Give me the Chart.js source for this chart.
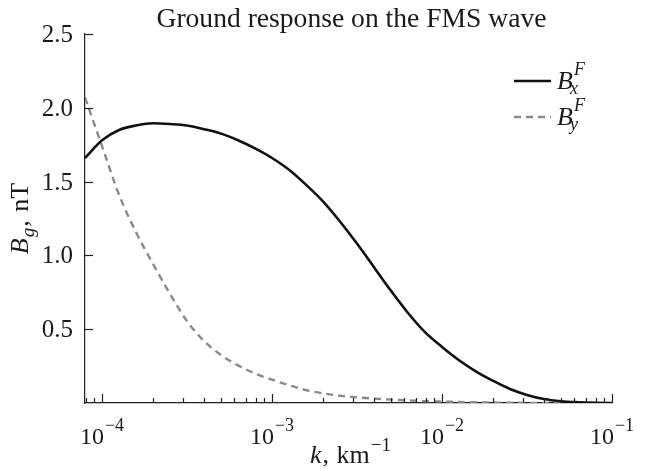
<!DOCTYPE html>
<html>
<head>
<meta charset="utf-8">
<script src="https://cdn.jsdelivr.net/npm/chart.js@4.4.1/dist/chart.umd.min.js"></script>
<style>
  html, body { margin: 0; padding: 0; background: #fff; }
  #wrap { width: 647px; height: 469px; position: relative; }
</style>
</head>
<body>
<div id="wrap"><canvas id="c" width="647" height="469"></canvas></div>
<script>
// ---- data ----
const chartTitle = "Ground response on the FMS wave";
// wavenumber k, km^-1 (read at ~0.1-decade steps)
const kValues = [7.94e-5, 1.0e-4, 1.26e-4, 1.58e-4, 2.0e-4, 2.51e-4, 3.16e-4, 3.98e-4, 5.01e-4, 6.31e-4,
                 7.94e-4, 1.0e-3, 1.26e-3, 1.58e-3, 2.0e-3, 2.51e-3, 3.16e-3, 3.98e-3, 5.01e-3, 6.31e-3,
                 7.94e-3, 1.0e-2, 1.26e-2, 1.58e-2, 2.0e-2, 2.51e-2, 3.16e-2, 3.98e-2, 5.01e-2, 6.31e-2,
                 7.94e-2, 1.0e-1];
// B_x^F, nT (solid)
const bxValues = [1.66, 1.78, 1.85, 1.88, 1.895, 1.89, 1.88, 1.855, 1.825, 1.78,
                  1.725, 1.66, 1.58, 1.48, 1.365, 1.23, 1.08, 0.92, 0.76, 0.61,
                  0.48, 0.38, 0.29, 0.215, 0.15, 0.095, 0.055, 0.027, 0.012, 0.005,
                  0.001, 0];
// B_y^F, nT (dashed)
const byValues = [2.07, 1.74, 1.41, 1.16, 0.94, 0.74, 0.555, 0.42, 0.325, 0.255,
                  0.20, 0.158, 0.12, 0.088, 0.065, 0.049, 0.038, 0.030, 0.023, 0.018,
                  0.013, 0.010, 0.007, 0.005, 0.003, 0.002, 0.001, 0.0005, 0, 0,
                  0, 0];
const xMajorTicks = [1e-4, 1e-3, 1e-2, 1e-1];
const xTickExponents = ["\u22124", "\u22123", "\u22122", "\u22121"];
const yTicks = [0.5, 1.0, 1.5, 2.0, 2.5];
const yTickLabels = ["0.5", "1.0", "1.5", "2.0", "2.5"];
const xRange = [7.94e-5, 1e-1];
const yRange = [0, 2.5];

const SERIF = '"Liberation Serif", "Times New Roman", serif';
const TXT = '#1a1a1a';

function richWidth(ctx, parts) {
  let w = 0;
  parts.forEach(p => { ctx.font = p.font; w += ctx.measureText(p.t).width + (p.dx || 0); });
  return w;
}
function drawRich(ctx, parts, x, y, align) {
  const w = richWidth(ctx, parts);
  let cx = align === 'center' ? x - w / 2 : (align === 'right' ? x - w : x);
  ctx.textAlign = 'left';
  ctx.textBaseline = 'alphabetic';
  parts.forEach(p => {
    ctx.font = p.font;
    ctx.fillText(p.t, cx, y + (p.dy || 0));
    cx += ctx.measureText(p.t).width + (p.dx || 0);
  });
}

const deco = {
  id: 'deco',
  afterDraw(chart) {
    const { ctx, chartArea: a, scales: { x, y } } = chart;
    ctx.save();
    ctx.strokeStyle = '#222';
    ctx.lineWidth = 1.2;
    ctx.fillStyle = TXT;
    // y ticks (inside)
    yTicks.forEach((v, i) => {
      const py = Math.round(y.getPixelForValue(v)) + 0.5;
      ctx.beginPath(); ctx.moveTo(a.left, py); ctx.lineTo(a.left + 8, py); ctx.stroke();
      ctx.font = '25px ' + SERIF;
      ctx.textAlign = 'right'; ctx.textBaseline = 'middle';
      ctx.fillText(yTickLabels[i], a.left - 12, py + 1);
    });
    // x ticks major + minor (inside)
    const lo = Math.floor(Math.log10(xRange[0])), hi = Math.ceil(Math.log10(xRange[1]));
    for (let e = lo; e <= hi; e++) {
      for (let m = 1; m <= 9; m++) {
        const v = m * Math.pow(10, e);
        if (v < xRange[0] || v > xRange[1] * 1.0001) continue;
        const px = Math.round(x.getPixelForValue(v)) + 0.5;
        const len = m === 1 ? 9 : 5;
        ctx.beginPath(); ctx.moveTo(px, a.bottom); ctx.lineTo(px, a.bottom - len); ctx.stroke();
      }
    }
    xMajorTicks.forEach((v, i) => {
      const px = x.getPixelForValue(v);
      drawRich(ctx, [
        { t: '10', font: '24px ' + SERIF, dx: 1 },
        { t: xTickExponents[i], font: '18px ' + SERIF, dy: -13 }
      ], px, a.bottom + 41, 'center');
    });
    // x title
    drawRich(ctx, [
      { t: 'k', font: 'italic 26px ' + SERIF, dx: 1 },
      { t: ', ', font: '26px ' + SERIF, dx: 1 },
      { t: 'km', font: '26px ' + SERIF, dx: 1 },
      { t: '\u22121', font: '19px ' + SERIF, dy: -12 }
    ], (a.left + a.right) / 2 + 2, 463, 'center');
    // y title (rotated)
    ctx.save();
    ctx.translate(28, (a.top + a.bottom) / 2);
    ctx.rotate(-Math.PI / 2);
    drawRich(ctx, [
      { t: 'B', font: 'italic 26px ' + SERIF, dx: 1 },
      { t: 'g', font: 'italic 19px ' + SERIF, dy: 6, dx: 1 },
      { t: ', ', font: '26px ' + SERIF, dx: 2 },
      { t: 'nT', font: '26px ' + SERIF }
    ], 0, 0, 'center');
    ctx.restore();
    // title
    ctx.font = '27.6px ' + SERIF;
    ctx.textAlign = 'center'; ctx.textBaseline = 'alphabetic';
    ctx.fillText(chartTitle, (a.left + a.right) / 2 + 3, 27);
    // legend
    const ds = chart.data.datasets;
    const rows = [
      { yLine: 81, sub: 'x', ds: ds[0] },
      { yLine: 117, sub: 'y', ds: ds[1] }
    ];
    rows.forEach(r => {
      ctx.save();
      ctx.strokeStyle = r.ds.borderColor;
      ctx.lineWidth = r.ds.borderWidth;
      ctx.setLineDash(r.ds.borderDash || []);
      ctx.beginPath(); ctx.moveTo(514, r.yLine); ctx.lineTo(551, r.yLine); ctx.stroke();
      ctx.restore();
      ctx.fillStyle = TXT;
      ctx.textAlign = 'left'; ctx.textBaseline = 'alphabetic';
      ctx.font = 'italic 26px ' + SERIF;
      ctx.fillText('B', 557, r.yLine + 8);
      const bw = ctx.measureText('B').width;
      ctx.font = 'italic 18px ' + SERIF;
      ctx.fillText('F', 557 + bw + 1, r.yLine - 6);
      ctx.fillText(r.sub, 557 + bw - 3, r.yLine + 13);
    });
    ctx.restore();
  }
};

new Chart(document.getElementById('c'), {
  type: 'scatter',
  data: {
    datasets: [
      {
        label: 'Bx',
        data: kValues.map((k, i) => ({ x: k, y: bxValues[i] })),
        showLine: true,
        borderColor: '#111',
        borderWidth: 2.6,
        pointRadius: 0,
        cubicInterpolationMode: 'monotone',
        fill: false
      },
      {
        label: 'By',
        data: kValues.map((k, i) => ({ x: k, y: byValues[i] })),
        showLine: true,
        borderColor: '#8a8a8a',
        borderWidth: 2.4,
        borderDash: [7, 5],
        pointRadius: 0,
        cubicInterpolationMode: 'monotone',
        fill: false
      }
    ]
  },
  options: {
    responsive: false,
    animation: false,
    devicePixelRatio: 1,
    layout: { padding: { left: 85, right: 35, top: 34, bottom: 66 } },
    plugins: { legend: { display: false }, title: { display: false }, tooltip: { enabled: false } },
    scales: {
      x: {
        type: 'logarithmic',
        min: xRange[0], max: xRange[1],
        ticks: { display: false },
        grid: { display: false, drawTicks: false },
        border: { display: true, color: '#222', width: 1.2 },
        afterFit: s => { s.height = 0; }
      },
      y: {
        type: 'linear',
        min: yRange[0], max: yRange[1],
        ticks: { display: false },
        grid: { display: false, drawTicks: false },
        border: { display: true, color: '#222', width: 1.2 },
        afterFit: s => { s.width = 0; }
      }
    }
  },
  plugins: [deco]
});
</script>
</body>
</html>
